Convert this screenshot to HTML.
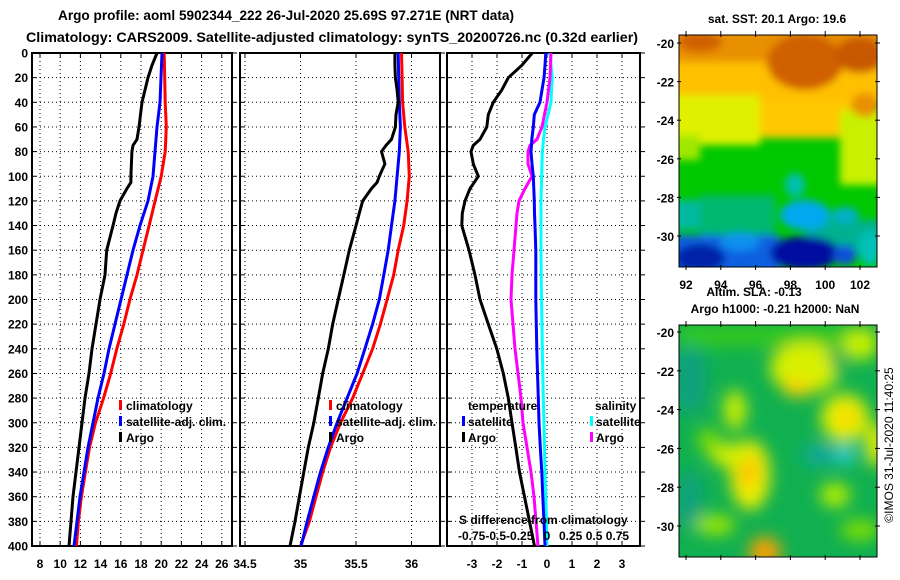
<!DOCTYPE html>
<html><head><meta charset="utf-8"><style>
html,body{margin:0;padding:0;background:#fff;}
svg{display:block;font-family:"Liberation Sans",sans-serif;font-weight:bold;}
</style></head><body>
<svg id="chart" width="900" height="580" viewBox="0 0 900 580" xmlns="http://www.w3.org/2000/svg">
<defs>
<filter id="blur1" x="-20%" y="-20%" width="140%" height="140%"><feGaussianBlur stdDeviation="4"/></filter>
<filter id="blur2" x="-20%" y="-20%" width="140%" height="140%"><feGaussianBlur stdDeviation="8"/></filter>
<clipPath id="cm1"><rect x="679" y="35" width="198" height="232"/></clipPath>
<clipPath id="cm2"><rect x="679" y="325" width="198" height="232"/></clipPath>
<clipPath id="cp1"><rect x="32" y="53" width="200" height="493"/></clipPath>
<clipPath id="cp2"><rect x="240" y="53" width="200" height="493"/></clipPath>
<clipPath id="cp3"><rect x="447" y="53" width="193" height="493"/></clipPath>
</defs>
<text x="58" y="20" font-size="14" textLength="456" lengthAdjust="spacingAndGlyphs">Argo profile: aoml 5902344_222 26-Jul-2020 25.69S 97.271E (NRT data)</text>
<text x="26" y="42" font-size="14" textLength="612" lengthAdjust="spacingAndGlyphs">Climatology: CARS2009. Satellite-adjusted climatology: synTS_20200726.nc (0.32d earlier)</text>

<g id="p1"></g>
<g id="p2"></g>
<g id="p3"></g>
<g id="yaxis"></g>

<!-- SST map -->
<g clip-path="url(#cm1)">
<rect x="679" y="35" width="198" height="232" fill="#00c800"/>
<g filter="url(#blur1)">
<rect x="660" y="20" width="240" height="60" fill="#e89000"/>
<rect x="660" y="62" width="240" height="42" fill="#ffc000"/>
<rect x="660" y="95" width="100" height="50" fill="#e0f000"/>
<rect x="760" y="100" width="100" height="38" fill="#ffc800"/>
<rect x="840" y="110" width="50" height="75" fill="#c8f000"/>
<rect x="660" y="135" width="40" height="25" fill="#a0e800"/>
<ellipse cx="805" cy="62" rx="38" ry="28" fill="#d06000"/>
<ellipse cx="860" cy="55" rx="25" ry="18" fill="#c85800"/>
<ellipse cx="700" cy="42" rx="22" ry="10" fill="#d06000"/>
<ellipse cx="865" cy="105" rx="14" ry="12" fill="#e89000"/>
<rect x="660" y="200" width="45" height="30" fill="#00b8a0"/>
<rect x="700" y="195" width="75" height="40" fill="#00b870"/>
<rect x="805" y="220" width="90" height="30" fill="#00b090"/>
<ellipse cx="805" cy="215" rx="25" ry="15" fill="#00a8f0"/>
<ellipse cx="845" cy="215" rx="14" ry="8" fill="#00b0c8"/>
<ellipse cx="795" cy="185" rx="10" ry="12" fill="#00c0b0"/>
<rect x="660" y="235" width="120" height="50" fill="#1060e0"/>
<ellipse cx="700" cy="258" rx="25" ry="14" fill="#0020a8"/>
<ellipse cx="805" cy="253" rx="35" ry="17" fill="#0010a0"/>
<ellipse cx="845" cy="255" rx="12" ry="10" fill="#1050d8"/>
<ellipse cx="870" cy="248" rx="12" ry="18" fill="#00c0b8"/>
<ellipse cx="740" cy="242" rx="20" ry="9" fill="#0890f0"/>
</g>
</g>
<rect x="679" y="35" width="198" height="232" fill="none" stroke="#000" stroke-width="1"/>

<!-- SLA map -->
<g clip-path="url(#cm2)">
<rect x="679" y="325" width="198" height="232" fill="#10b050"/>
<g filter="url(#blur2)">
<rect x="679" y="325" width="198" height="22" fill="#30c820"/>
<ellipse cx="690" cy="380" rx="16" ry="35" fill="#10a080"/>
<ellipse cx="690" cy="500" rx="12" ry="30" fill="#10a080"/>
<ellipse cx="805" cy="368" rx="35" ry="26" fill="#d8f000"/>
<ellipse cx="797" cy="388" rx="14" ry="9" fill="#ffd000"/>
<ellipse cx="845" cy="418" rx="24" ry="24" fill="#e8f000"/>
<ellipse cx="847" cy="418" rx="8" ry="10" fill="#ffd000"/>
<ellipse cx="860" cy="345" rx="18" ry="15" fill="#c8f000"/>
<ellipse cx="838" cy="360" rx="8" ry="12" fill="#10a850"/>
<ellipse cx="735" cy="410" rx="11" ry="20" fill="#d0f000"/>
<ellipse cx="708" cy="440" rx="10" ry="12" fill="#80e000"/>
<ellipse cx="750" cy="475" rx="20" ry="35" fill="#f0f000"/>
<ellipse cx="748" cy="470" rx="10" ry="18" fill="#ffc000"/>
<ellipse cx="730" cy="455" rx="20" ry="12" fill="#d8f000"/>
<ellipse cx="876" cy="445" rx="10" ry="22" fill="#f0f000"/>
<ellipse cx="820" cy="455" rx="18" ry="10" fill="#10a8a0"/>
<ellipse cx="845" cy="455" rx="10" ry="9" fill="#30d0e0"/>
<ellipse cx="835" cy="495" rx="15" ry="12" fill="#b8f000"/>
<ellipse cx="765" cy="552" rx="16" ry="15" fill="#ffa000"/>
<ellipse cx="715" cy="525" rx="20" ry="10" fill="#a0e800"/>
<ellipse cx="860" cy="530" rx="20" ry="10" fill="#80e000"/>
</g>
</g>
<rect x="679" y="325" width="198" height="232" fill="none" stroke="#000" stroke-width="1"/>
<g id="maps"></g>

<text x="777" y="23" font-size="12" text-anchor="middle">sat. SST: 20.1 Argo: 19.6</text>
<text x="754" y="296" font-size="12" text-anchor="middle">Altim. SLA: -0.13</text>
<text x="775" y="313" font-size="12" text-anchor="middle">Argo h1000: -0.21 h2000: NaN</text>
<text transform="translate(893,445) rotate(-90)" font-size="12" font-weight="normal" text-anchor="middle">©IMOS 31-Jul-2020 11:40:25</text>

<script>
// ---- data ----
const depthClim = [0,20,40,60,80,100,120,140,160,180,200,220,240,260,280,300,320,340,360,380,400];
const tempClim = [20.3,20.35,20.4,20.5,20.4,20.0,19.4,18.8,18.2,17.6,16.9,16.3,15.6,15.0,14.3,13.5,12.9,12.5,12.1,11.8,11.6];
const tempSat = [20.08,19.98,19.88,19.58,19.39,19.19,18.69,17.9,17.21,16.61,16.02,15.43,14.83,14.34,13.74,13.25,12.75,12.36,11.96,11.66,11.37];
const salClim = [35.91,35.915,35.92,35.94,35.97,35.98,35.96,35.93,35.88,35.84,35.78,35.72,35.65,35.56,35.47,35.36,35.27,35.2,35.14,35.08,35.0];
const salSat = [35.88,35.885,35.89,35.9,35.89,35.87,35.85,35.82,35.79,35.75,35.71,35.65,35.58,35.51,35.42,35.33,35.25,35.18,35.12,35.06,35.005];
const depthArgo = [0,10,20,30,40,50,60,70,75,80,90,100,105,110,120,130,140,160,180,200,220,240,260,280,300,320,340,360,380,400];
const tempArgo = [19.58,19.09,18.69,18.4,18.1,17.95,17.8,17.6,17.21,17.1,17.05,17.0,17.0,16.6,15.92,15.52,15.23,14.6,14.44,13.94,13.54,13.15,12.85,12.46,12.16,11.86,11.56,11.27,11.07,10.87];
const salArgo = [35.85,35.85,35.855,35.87,35.88,35.86,35.855,35.82,35.77,35.73,35.76,35.71,35.69,35.64,35.56,35.53,35.5,35.44,35.39,35.34,35.29,35.25,35.2,35.16,35.12,35.07,35.03,34.99,34.95,34.905];
const depthDiff = [0,10,20,30,40,50,60,70,75,80,90,100,110,120,130,140,160,180,200,220,240,260,280,300,320,340,360,380,400];
const tDiffArgo = [-0.59,-1.01,-1.55,-1.81,-2.15,-2.35,-2.41,-2.68,-2.95,-3.04,-2.95,-2.75,-3.08,-3.28,-3.39,-3.41,-3.12,-2.88,-2.68,-2.35,-2.01,-1.75,-1.55,-1.4,-1.25,-1.1,-0.9,-0.7,-0.5];
const tDiffSat = [-0.05,-0.08,-0.12,-0.2,-0.28,-0.51,-0.55,-0.61,-0.62,-0.64,-0.6,-0.55,-0.53,-0.51,-0.5,-0.48,-0.45,-0.45,-0.45,-0.43,-0.41,-0.38,-0.35,-0.32,-0.27,-0.21,-0.17,-0.12,-0.08];
const sDiffArgo = [0.04,0.035,0.03,0.015,0.0,-0.025,-0.05,-0.1,-0.17,-0.19,-0.19,-0.15,-0.22,-0.28,-0.3,-0.31,-0.33,-0.35,-0.36,-0.34,-0.32,-0.29,-0.26,-0.24,-0.2,-0.16,-0.13,-0.11,-0.09];
const sDiffSat = [0.03,0.04,0.053,0.045,0.04,0.01,-0.02,-0.035,-0.04,-0.047,-0.05,-0.053,-0.057,-0.06,-0.06,-0.06,-0.06,-0.058,-0.055,-0.05,-0.047,-0.042,-0.037,-0.03,-0.025,-0.02,-0.012,-0.005,0.0];
const depthTicks = [0,20,40,60,80,100,120,140,160,180,200,220,240,260,280,300,320,340,360,380,400];
const tempTicks = [8,10,12,14,16,18,20,22,24,26];
const salTicks = [34.5,35,35.5,36];
const diffTicks = [-3,-2,-1,0,1,2,3];
const sDiffTickLabels = ["-0.75-0.5-0.25","0","0.25 0.5 0.75"];
const latTicks = [-20,-22,-24,-26,-28,-30];
const lonTicks = [92,94,96,98,100,102];

// ---- scales ----
const yD = d => 53 + d * 493 / 400;
const xT = t => 40 + (t - 8) * 10.1;
const xS = s => 245 + (s - 34.5) * 111;
const xTd = v => 547 + v * 25;
const xSd = v => 547 + v * 100;
const yLat1 = l => 43 + (-20 - l) * 19.3;
const yLat2 = l => 332 + (-20 - l) * 19.4;
const xLon = l => 686 + (l - 92) * 17.4;

const NS = "http://www.w3.org/2000/svg";
function mk(tag, parent, attrs) {
  const e = document.createElementNS(NS, tag);
  for (const k in attrs) e.setAttribute(k, attrs[k]);
  parent.appendChild(e);
  return e;
}
function line(depths, vals, xf, color, parent, name, clip) {
  const pts = depths.map((d, i) => xf(vals[i]).toFixed(1) + "," + yD(d).toFixed(1)).join(" ");
  const p = mk("polyline", parent, {points: pts, fill: "none", stroke: color, "stroke-width": 3, "clip-path": clip});
  
  
}
function txt(parent, x, y, s, size, anchor, name) {
  const t = mk("text", parent, {x: x, y: y, "font-size": size, "text-anchor": anchor || "start"});
  t.textContent = s;
  
  
  return t;
}
function frame(parent, x0, x1, vticks, xf, name) {
  const g = mk("g", parent, {});
  
  
  depthTicks.forEach(d => {
    mk("line", g, {x1: x0, x2: x1, y1: yD(d), y2: yD(d), stroke: "#000", "stroke-width": 1, "stroke-dasharray": "1 3"});
    mk("line", g, {x1: x0, x2: x0 + 4, y1: yD(d), y2: yD(d), stroke: "#000"});
    mk("line", g, {x1: x1, x2: x1 + 5, y1: yD(d), y2: yD(d), stroke: "#000"});
  });
  vticks.forEach(v => {
    const x = xf(v);
    mk("line", g, {x1: x, x2: x, y1: 53, y2: 546, stroke: "#000", "stroke-width": 1, "stroke-dasharray": "1 3"});
    mk("line", g, {x1: x, x2: x, y1: 53, y2: 58, stroke: "#000"});
    mk("line", g, {x1: x, x2: x, y1: 546, y2: 541, stroke: "#000"});
  });
  mk("rect", g, {x: x0, y: 53, width: x1 - x0, height: 493, fill: "none", stroke: "#000", "stroke-width": 2});
}
function legendMark(parent, x, y, color, name) {
  const r = mk("rect", parent, {x: x, y: y - 10, width: 3, height: 10, fill: color});
  
  
}

// ---- panel 1 ----
const p1 = document.getElementById("p1");
frame(p1, 32, 232, tempTicks, xT, "temperature-grid");
line(depthClim, tempClim, xT, "#ff0000", p1, "temp-climatology-line", "url(#cp1)");
line(depthClim, tempSat, xT, "#0000ff", p1, "temp-satellite-adj-line", "url(#cp1)");
line(depthArgo, tempArgo, xT, "#000000", p1, "temp-argo-line", "url(#cp1)");
tempTicks.forEach(t => txt(p1, xT(t), 568, String(t), 12, "middle", "temp-tick-label"));
legendMark(p1, 119, 410, "#ff0000", "legend-climatology-swatch");
txt(p1, 126, 410, "climatology", 12, "start", "legend-climatology");
legendMark(p1, 119, 426, "#0000ff", "legend-satellite-swatch");
txt(p1, 126, 426, "satellite-adj. clim.", 12, "start", "legend-satellite-adj");
legendMark(p1, 119, 442, "#000000", "legend-argo-swatch");
txt(p1, 126, 442, "Argo", 12, "start", "legend-argo");

// ---- panel 2 ----
const p2 = document.getElementById("p2");
frame(p2, 240, 440, salTicks, xS, "salinity-grid");
line(depthClim, salClim, xS, "#ff0000", p2, "sal-climatology-line", "url(#cp2)");
line(depthClim, salSat, xS, "#0000ff", p2, "sal-satellite-adj-line", "url(#cp2)");
line(depthArgo, salArgo, xS, "#000000", p2, "sal-argo-line", "url(#cp2)");
salTicks.forEach(t => txt(p2, xS(t), 568, String(t), 12, "middle", "sal-tick-label"));
legendMark(p2, 329, 410, "#ff0000", "legend2-climatology-swatch");
txt(p2, 336, 410, "climatology", 12, "start", "legend2-climatology");
legendMark(p2, 329, 426, "#0000ff", "legend2-satellite-swatch");
txt(p2, 336, 426, "satellite-adj. clim.", 12, "start", "legend2-satellite-adj");
legendMark(p2, 329, 442, "#000000", "legend2-argo-swatch");
txt(p2, 336, 442, "Argo", 12, "start", "legend2-argo");

// ---- panel 3 ----
const p3 = document.getElementById("p3");
frame(p3, 447, 640, diffTicks, xTd, "difference-grid");
line(depthDiff, sDiffSat, xSd, "#00ffff", p3, "sal-diff-satellite-line", "url(#cp3)");
line(depthDiff, sDiffArgo, xSd, "#ff00ff", p3, "sal-diff-argo-line", "url(#cp3)");
line(depthDiff, tDiffSat, xTd, "#0000ff", p3, "temp-diff-satellite-line", "url(#cp3)");
line(depthDiff, tDiffArgo, xTd, "#000000", p3, "temp-diff-argo-line", "url(#cp3)");
diffTicks.forEach(t => txt(p3, xTd(t), 568, String(t), 12, "middle", "diff-tick-label"));
txt(p3, 468, 410, "temperature", 12, "start", "legend3-temperature-header");
legendMark(p3, 462, 426, "#0000ff", "legend3-temp-satellite-swatch");
txt(p3, 468, 426, "satellite", 12, "start", "legend3-temp-satellite");
legendMark(p3, 462, 442, "#000000", "legend3-temp-argo-swatch");
txt(p3, 468, 442, "Argo", 12, "start", "legend3-temp-argo");
txt(p3, 595, 410, "salinity", 12, "start", "legend3-salinity-header");
legendMark(p3, 590, 426, "#00ffff", "legend3-sal-satellite-swatch");
txt(p3, 596, 426, "satellite", 12, "start", "legend3-sal-satellite");
legendMark(p3, 590, 442, "#ff00ff", "legend3-sal-argo-swatch");
txt(p3, 596, 442, "Argo", 12, "start", "legend3-sal-argo");
txt(p3, 459, 524, "S difference from climatology", 12, "start", "s-diff-axis-title");
txt(p3, 458, 540, sDiffTickLabels[0], 12, "start", "s-diff-tick-labels-neg");
txt(p3, xSd(0), 540, sDiffTickLabels[1], 12, "middle", "s-diff-tick-label-zero");
txt(p3, 559, 540, sDiffTickLabels[2], 12, "start", "s-diff-tick-labels-pos");

// ---- depth axis labels ----
const ya = document.getElementById("yaxis");
depthTicks.forEach(d => txt(ya, 28, yD(d) + 4.5, String(d), 12, "end", "depth-tick-label"));

// ---- map axes ----
const mg = document.getElementById("maps");
latTicks.forEach(l => {
  txt(mg, 674, yLat1(l) + 5, String(l), 12, "end", "sst-lat-label");
  mk("line", mg, {x1: 677, x2: 681, y1: yLat1(l), y2: yLat1(l), stroke: "#000"});
  mk("line", mg, {x1: 875, x2: 880, y1: yLat1(l), y2: yLat1(l), stroke: "#000"});
  txt(mg, 674, yLat2(l) + 5, String(l), 12, "end", "sla-lat-label");
  mk("line", mg, {x1: 677, x2: 681, y1: yLat2(l), y2: yLat2(l), stroke: "#000"});
  mk("line", mg, {x1: 875, x2: 880, y1: yLat2(l), y2: yLat2(l), stroke: "#000"});
});
lonTicks.forEach(l => {
  txt(mg, xLon(l), 289, String(l), 12, "middle", "sst-lon-label");
  mk("line", mg, {x1: xLon(l), x2: xLon(l), y1: 31, y2: 37, stroke: "#000"});
  mk("line", mg, {x1: xLon(l), x2: xLon(l), y1: 265, y2: 270, stroke: "#000"});
  mk("line", mg, {x1: xLon(l), x2: xLon(l), y1: 321, y2: 327, stroke: "#000"});
  mk("line", mg, {x1: xLon(l), x2: xLon(l), y1: 555, y2: 560, stroke: "#000"});
});
</script>
</svg>
</body></html>
